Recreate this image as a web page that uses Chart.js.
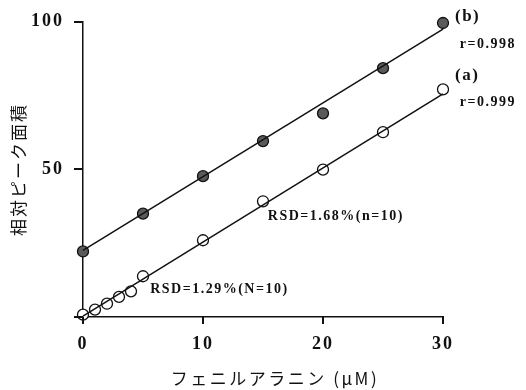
<!DOCTYPE html>
<html>
<head>
<meta charset="utf-8">
<script src="https://cdn.jsdelivr.net/npm/chart.js@4"></script>
<style>
  body { margin: 0; background: #fff; }
  canvas { display: block; }
</style>
</head>
<body>
<canvas id="chart" width="526" height="390"></canvas>
<script>
// (a) open circles, (b) filled circles
const concA = [0, 1, 2, 3, 4, 5, 10, 15, 20, 25, 30];
const areaA = [0.8, 2.5, 4.5, 6.8, 8.7, 13.8, 26.0, 39.2, 49.9, 62.6, 77.1];
const concB = [0, 5, 10, 15, 20, 25, 30];
const areaB = [22.2, 35.0, 47.7, 59.6, 69.0, 84.3, 99.6];

// regression line end points
const fitA = [{ x: 0, y: 0.3 }, { x: 30, y: 75.6 }];
const fitB = [{ x: 0, y: 22.6 }, { x: 30, y: 97.5 }];

const xTicks = [0, 10, 20, 30];
const yTicks = [0, 50, 100];
const xTitle = "フェニルアラニン (μM)";

const notes = [
  { x: 31.0, y: 101.8, text: "(b)", size: 17 },
  { x: 31.4, y: 92.3, text: "r=0.998", size: 14 },
  { x: 31.0, y: 81.8, text: "(a)", size: 17 },
  { x: 31.4, y: 72.7, text: "r=0.999", size: 14 },
  { x: 15.4, y: 34.1, text: "RSD=1.68%(n=10)", size: 14 },
  { x: 5.6, y: 9.4, text: "RSD=1.29%(N=10)", size: 14 }
];

const toPts = (xs, ys) => xs.map((x, i) => ({ x: x, y: ys[i] }));

// the scanned figure has wide letter spacing everywhere
const spacingPlugin = {
  id: "spacing",
  beforeDraw(chart) { chart.ctx.letterSpacing = "2px"; }
};

// short outward tick marks on both axes
const tickPlugin = {
  id: "tickMarks",
  afterDatasetsDraw(chart) {
    const ctx = chart.ctx;
    const xs = chart.scales.x, ys = chart.scales.y;
    const area = chart.chartArea;
    ctx.save();
    ctx.strokeStyle = "#111";
    ctx.lineWidth = 2;
    xTicks.forEach(v => {
      const px = Math.round(xs.getPixelForValue(v));
      ctx.beginPath();
      ctx.moveTo(px, area.bottom);
      ctx.lineTo(px, area.bottom + 7);
      ctx.stroke();
    });
    yTicks.forEach(v => {
      const py = Math.round(ys.getPixelForValue(v));
      ctx.beginPath();
      ctx.moveTo(area.left, py);
      ctx.lineTo(area.left - 9, py);
      ctx.stroke();
    });
    ctx.restore();
  }
};

const notePlugin = {
  id: "notes",
  afterDatasetsDraw(chart) {
    const ctx = chart.ctx;
    const xs = chart.scales.x, ys = chart.scales.y;
    const area = chart.chartArea;
    ctx.save();
    ctx.fillStyle = "#111";
    ctx.textBaseline = "middle";
    ctx.textAlign = "left";
    ctx.letterSpacing = "1.5px";
    notes.forEach(n => {
      ctx.font = "bold " + n.size + "px 'Liberation Serif', serif";
      ctx.fillText(n.text, xs.getPixelForValue(n.x), ys.getPixelForValue(n.y));
    });
    // x axis title sits a little right of centre in the scan
    ctx.letterSpacing = "2.5px";
    ctx.textAlign = "center";
    ctx.font = "17px 'Noto Sans CJK JP'";
    ctx.fillText(xTitle, (area.left + area.right) / 2 + 12, area.bottom + 62);
    ctx.restore();
  }
};

const serif = { family: "'Liberation Serif', serif", size: 18, weight: "bold" };

new Chart(document.getElementById("chart"), {
  type: "scatter",
  data: {
    datasets: [
      {
        data: fitB, showLine: true, borderColor: "#111", borderWidth: 1.5,
        pointRadius: 0, clip: false
      },
      {
        data: fitA, showLine: true, borderColor: "#111", borderWidth: 1.5,
        pointRadius: 0, clip: false
      },
      {
        data: toPts(concB, areaB), pointRadius: 5.5, pointBackgroundColor: "#5a5a5a",
        pointBorderColor: "#111", pointBorderWidth: 1.3, clip: false
      },
      {
        data: toPts(concA, areaA), pointRadius: 5.5, pointBackgroundColor: "#fff",
        pointBorderColor: "#111", pointBorderWidth: 1.3, clip: false
      }
    ]
  },
  options: {
    responsive: false,
    animation: false,
    layout: { padding: { left: 4, right: 83, top: 21, bottom: 0 } },
    plugins: { legend: { display: false }, tooltip: { enabled: false } },
    scales: {
      x: {
        min: 0, max: 30,
        border: { color: "#111", width: 1.5 },
        grid: { display: false },
        ticks: { stepSize: 10, color: "#111", font: serif, padding: 9 },
        afterFit(scale) { scale.height = 73; }
      },
      y: {
        min: 0, max: 100,
        border: { color: "#111", width: 1.5 },
        grid: { display: false },
        ticks: {
          stepSize: 50, color: "#111", font: serif, padding: 11,
          callback: v => (v === 0 ? "" : v)
        },
        title: {
          display: true, text: "相対ピーク面積", color: "#111",
          font: { family: "'Noto Sans CJK JP'", size: 17 }, padding: { bottom: 8 }
        },
        afterFit(scale) { scale.width = 79; }
      }
    }
  },
  plugins: [spacingPlugin, tickPlugin, notePlugin]
});
</script>
</body>
</html>
